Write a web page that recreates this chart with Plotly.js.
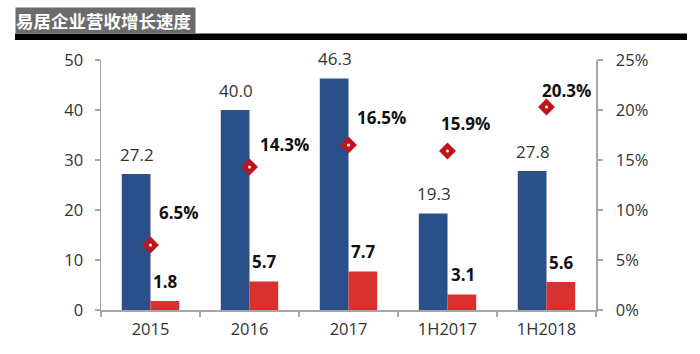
<!DOCTYPE html>
<html>
<head>
<meta charset="utf-8">
<script src="https://cdn.plot.ly/plotly-3.0.1.min.js"></script>
<style>html,body{margin:0;padding:0;background:#fff;}#chart{width:700px;height:354px;}</style>
</head>
<body>
<div id="chart"></div>
<script>
const categories = ['2015', '2016', '2017', '1H2017', '1H2018'];
const revenue = [27.2, 40.0, 46.3, 19.3, 27.8];
const profit = [1.8, 5.7, 7.7, 3.1, 5.6];
const growth = [6.5, 14.3, 16.5, 15.9, 20.3];
const revenueText = ['27.2', '40.0', '46.3', '19.3', '27.8'];
const profitText = ['1.8', '5.7', '7.7', '3.1', '5.6'];
const growthText = ['6.5%', '14.3%', '16.5%', '15.9%', '20.3%'];
const leftTicks = [0, 10, 20, 30, 40, 50];
const rightTicks = [0, 5, 10, 15, 20, 25];
const rightTickText = ['0%', '5%', '10%', '15%', '20%', '25%'];

// label placement (style only)
const growthDx = [6, 8, 6, -9, -7];
const growthDy = [33, 23, 28, 28, 17];

const BLUE = '#2b4f89';
const RED = '#d9312d';
const MARK = '#c0141c';
const AX = '#a6a6a6';
const FONT = '"Open Sans", "Noto Sans", sans-serif';

const traces = [
  {type: 'bar', x: categories, y: revenue, marker: {color: BLUE}, offsetgroup: 'a', hoverinfo: 'none'},
  {type: 'bar', x: categories, y: profit, marker: {color: RED}, offsetgroup: 'b', hoverinfo: 'none'},
  {type: 'scatter', mode: 'markers', x: categories, y: growth, yaxis: 'y2',
   marker: {symbol: 'diamond', size: 13, color: MARK, line: {width: 0}}, hoverinfo: 'none', cliponaxis: false},
  {type: 'scatter', mode: 'markers', x: categories, y: growth, yaxis: 'y2',
   marker: {symbol: 'circle', size: 3, color: '#ffffff', line: {width: 0}}, hoverinfo: 'none', cliponaxis: false}
];

const annotations = [];
categories.forEach((c, i) => {
  // category axis position by index
  annotations.push({x: i, y: revenue[i], xref: 'x', yref: 'y', text: revenueText[i], showarrow: false,
    xshift: -14, yshift: 20, yanchor: 'middle', xanchor: 'center',
    font: {family: FONT, size: 17, color: '#333333'}});
  annotations.push({x: i, y: profit[i], xref: 'x', yref: 'y', text: '<b>' + profitText[i] + '</b>', showarrow: false,
    xshift: 15, yshift: 20, yanchor: 'middle', xanchor: 'center',
    font: {family: FONT, size: 17, color: '#111111'}});
  annotations.push({x: i, y: growth[i], xref: 'x', yref: 'y2', text: '<b>' + growthText[i] + '</b>', showarrow: false,
    xshift: growthDx[i], yshift: growthDy[i], yanchor: 'middle', xanchor: 'left',
    font: {family: FONT, size: 17, color: '#111111'}});
});
annotations.push({
  xref: 'paper', yref: 'paper', x: (15 - 101) / 495, y: (310 - 7) / 250, xanchor: 'left', yanchor: 'top',
  text: '<b>易居企业营收增长速度</b>', showarrow: false, bgcolor: '#6b6b6b', borderpad: 0,
  width: 179, height: 25, align: 'left', valign: 'middle',
  font: {family: '"Noto Sans CJK SC", sans-serif', size: 17.5, color: '#ffffff'}
});

const layout = {
  width: 700, height: 354,
  margin: {l: 101, r: 104, t: 60, b: 44, pad: 0},
  paper_bgcolor: '#ffffff', plot_bgcolor: '#ffffff',
  showlegend: false,
  barmode: 'group', bargap: 0.42, bargroupgap: 0,
  font: {family: FONT, size: 16, color: '#333333'},
  xaxis: {
    type: 'category', range: [-0.5, 4.5], showgrid: false, zeroline: false,
    showline: true, linecolor: AX, linewidth: 1.5,
    ticks: 'outside', tickson: 'boundaries', ticklen: 5, tickcolor: AX, tickwidth: 1.2,
    tickfont: {family: FONT, size: 16.5, color: '#333333'}, ticklabelstandoff: 4
  },
  yaxis: {
    range: [0, 50], tickvals: leftTicks, showgrid: false, zeroline: false,
    showline: true, linecolor: AX, linewidth: 1.5,
    ticks: 'outside', ticklen: 5, tickcolor: AX, tickwidth: 1.2,
    tickfont: {family: FONT, size: 16.5, color: '#333333'}, ticklabelstandoff: 8
  },
  yaxis2: {
    overlaying: 'y', side: 'right', range: [0, 25], tickvals: rightTicks, ticktext: rightTickText,
    showgrid: false, zeroline: false, showline: true, linecolor: AX, linewidth: 1.5,
    ticks: 'outside', ticklen: 5, tickcolor: AX, tickwidth: 1.2,
    tickfont: {family: FONT, size: 16.5, color: '#333333'}, ticklabelstandoff: 10
  },
  shapes: [{
    type: 'rect', xref: 'paper', yref: 'paper',
    x0: (15 - 101) / 495, x1: (687 - 101) / 495, y0: (310 - 40) / 250, y1: (310 - 33.5) / 250,
    fillcolor: '#000000', line: {width: 0}
  }],
  annotations: annotations
};

Plotly.newPlot('chart', traces, layout, {displayModeBar: false, staticPlot: true});
</script>
</body>
</html>
